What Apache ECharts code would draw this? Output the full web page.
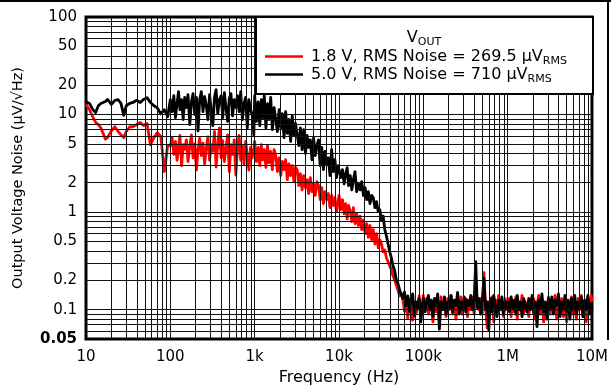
<!DOCTYPE html>
<html><head><meta charset="utf-8">
<script src="https://cdn.jsdelivr.net/npm/echarts@6/dist/echarts.min.js"></script>
<style>html,body{margin:0;padding:0;background:#fff}#c{width:611px;height:392px}</style>
</head><body><div id="c"></div>
<script>
// Frequency points (Hz)
const freq = [
10,11,12,13,14,15,17,18,20,22,24,26,28,30,33,36,40,44,48,53,58,64,70,77,85,93,
100,105,110,115,120,125,130,136,142,148,155,162,170,178,186,195,204,213,223,233,244,255,267,279,292,305,319,334,349,365,382,400,418,437,457,478,500,523,547,572,598,625,654,684,715,748,782,818,855,894,935,978,
1e3,1.05e3,1.1e3,1.15e3,1.2e3,1.25e3,1.3e3,1.36e3,1.42e3,1.48e3,1.55e3,1.62e3,1.7e3,1.78e3,1.86e3,1.95e3,2.04e3,2.13e3,2.23e3,2.33e3,2.44e3,2.55e3,2.67e3,2.79e3,2.92e3,3.05e3,3.19e3,3.34e3,3.49e3,3.65e3,3.82e3,4e3,4.18e3,4.37e3,4.57e3,4.78e3,5e3,5.23e3,5.47e3,5.72e3,5.98e3,6.25e3,6.54e3,6.84e3,7.15e3,7.48e3,7.82e3,8.18e3,8.55e3,8.94e3,9.35e3,9.78e3,
1e4,1.05e4,1.1e4,1.15e4,1.2e4,1.25e4,1.3e4,1.36e4,1.42e4,1.48e4,1.55e4,1.62e4,1.7e4,1.78e4,1.86e4,1.95e4,2.04e4,2.13e4,2.23e4,2.33e4,2.44e4,2.55e4,2.67e4,2.79e4,2.92e4,3.05e4,3.19e4,3.34e4,3.49e4,3.65e4,3.82e4,4e4,4.18e4,4.37e4,4.57e4,4.78e4,5e4,5.23e4,5.47e4,5.72e4,5.98e4,6.25e4,6.54e4,6.84e4,7.15e4,7.48e4,7.82e4,8.18e4,8.55e4,8.94e4,9.35e4,9.78e4,
1e5,1.05e5,1.1e5,1.15e5,1.2e5,1.25e5,1.3e5,1.36e5,1.42e5,1.48e5,1.55e5,1.62e5,1.7e5,1.78e5,1.86e5,1.95e5,2.04e5,2.13e5,2.23e5,2.33e5,2.44e5,2.55e5,2.67e5,2.79e5,2.92e5,3.05e5,3.19e5,3.34e5,3.49e5,3.65e5,3.82e5,4e5,4.18e5,4.37e5,4.57e5,4.78e5,5e5,5.23e5,5.47e5,5.72e5,5.98e5,6.25e5,6.54e5,6.84e5,7.15e5,7.48e5,7.82e5,8.18e5,8.55e5,8.94e5,9.35e5,9.78e5,
1e6,1.05e6,1.1e6,1.15e6,1.2e6,1.25e6,1.3e6,1.36e6,1.42e6,1.48e6,1.55e6,1.62e6,1.7e6,1.78e6,1.86e6,1.95e6,2.04e6,2.13e6,2.23e6,2.33e6,2.44e6,2.55e6,2.67e6,2.79e6,2.92e6,3.05e6,3.19e6,3.34e6,3.49e6,3.65e6,3.82e6,4e6,4.18e6,4.37e6,4.57e6,4.78e6,5e6,5.23e6,5.47e6,5.72e6,5.98e6,6.25e6,6.54e6,6.84e6,7.15e6,7.48e6,7.82e6,8.18e6,8.55e6,8.94e6,9.35e6,9.78e6,
1e7];

// VOUT = 1.8 V noise (µV/√Hz)
const noise18 = [
12.7,11.2,9.5,8.3,7.9,7.3,5.6,5.8,6.8,7.5,6.7,6.2,5.8,6.7,7.5,7.5,7.9,8.3,7.7,8.1,4.9,5.8,6.5,6.0,2.6,4.8,
4.8,5.8,3.9,5.3,3.4,4.6,6.1,3.0,4.9,4.4,5.5,3.3,4.7,
6.2,3.6,5.0,2.7,4.4,5.7,3.8,5.1,3.1,4.6,5.9,3.4,4.9,
4.2,6.7,2.9,4.8,7.3,3.6,5.4,3.3,4.5,6.2,2.6,4.9,3.9,
5.5,2.4,4.4,6.1,3.4,4.8,3.1,5.3,3.8,2.7,4.6,3.6,4.4,
5.3,3.3,4.6,3.0,4.9,3.44,4.36,2.87,4.8,3.2,4.2,2.72,4.36,
3.8,2.6,3.6,2.37,3.3,2.72,3.44,2.15,3.12,2.37,3.0,2.05,2.87,
2.72,1.87,2.48,1.69,2.37,1.78,2.15,1.55,2.26,1.62,1.95,1.48,2.05,
1.87,1.34,1.78,1.22,1.62,1.34,1.55,1.11,1.48,1.17,1.41,1.01,1.28,
1.48,1.06,1.34,0.96,1.22,0.85,1.17,1.01,0.8,1.11,0.76,0.96,0.73,
0.91,0.66,0.83,0.6,0.76,0.55,0.73,0.52,0.66,0.47,0.6,0.43,0.52,
0.47,0.39,0.41,0.34,0.31,0.28,0.256,0.222,0.202,0.179,0.159,0.138,0.145,
0.126,0.096,0.115,0.082,0.13,0.1,0.078,0.12,0.09,0.11,0.138,0.086,0.105,
0.14,0.1,0.13,0.09,0.12,0.105,0.075,0.13,0.095,0.115,0.08,0.135,0.1,
0.12,0.085,0.13,0.1,0.14,0.09,0.115,0.08,0.125,0.1,0.135,0.09,0.11,
0.13,0.085,0.12,0.1,0.135,0.09,0.125,0.11,0.1,0.13,0.09,0.24,0.105,
0.065,0.12,0.1,0.135,0.075,0.125,0.095,0.14,0.1,0.115,0.085,0.13,0.1,
0.1,0.13,0.085,0.12,0.095,0.135,0.08,0.115,0.1,0.14,0.09,0.12,0.105,
0.085,0.125,0.1,0.13,0.08,0.11,0.14,0.09,0.12,0.075,0.115,0.1,0.135,
0.09,0.12,0.105,0.14,0.08,0.125,0.095,0.13,0.085,0.115,0.075,0.12,0.1,
0.135,0.09,0.12,0.08,0.13,0.1,0.14,0.085,0.115,0.075,0.13,0.095,0.14,
0.12];

// VOUT = 5.0 V noise (µV/√Hz)
const noise50 = [
13.5,13,11.3,10.5,12.3,13,13.6,14.3,12.7,14,14.2,13,9.8,12.3,13,13.3,14,13.3,14.3,14.9,13.3,12.3,11.7,10.2,11.2,9.5,
14.2,10.7,15.6,9.3,12.9,17.2,11.2,14.2,8.9,15.0,11.8,16.0,7.9,
13.5,16.4,10.0,15.0,6.8,14.2,17.2,10.7,15.3,12.3,8.9,16.0,11.2,
7.7,15.0,18.0,10.2,14.2,15.6,9.3,16.8,11.8,8.5,14.6,16.4,9.7,
14.2,11.8,15.6,10.7,17.2,8.9,12.9,15.0,7.3,14.2,11.2,10.0,6.2,
15.6,8.5,13.5,7.7,14.2,9.3,15.6,7.3,12.9,8.9,15.0,7.0,11.8,
12.3,6.7,11.2,7.3,10.2,5.8,10.7,6.4,8.9,5.3,9.7,6.1,8.1,
8.1,4.8,7.3,4.36,7.0,4.0,6.1,4.6,5.5,3.44,5.8,3.8,4.8,
5.5,3.0,4.6,2.72,4.2,3.12,3.6,2.37,4.36,2.6,3.44,2.26,3.0,
3.12,2.26,2.72,1.95,2.48,2.85,1.87,2.37,1.69,2.15,2.6,1.62,1.95,
1.69,2.05,1.48,1.78,1.34,1.62,1.22,1.48,1.41,1.11,1.28,1.01,1.06,
0.83,0.91,0.66,0.57,0.47,0.39,0.34,0.28,0.25,0.202,0.186,0.159,0.152,
0.13,0.152,0.11,0.138,0.096,0.126,0.145,0.086,0.12,0.105,0.13,0.075,0.115,
0.13,0.095,0.12,0.14,0.1,0.125,0.085,0.13,0.11,0.145,0.063,0.12,0.1,
0.135,0.09,0.12,0.105,0.14,0.095,0.125,0.11,0.15,0.09,0.12,0.1,0.135,
0.095,0.125,0.11,0.14,0.1,0.12,0.31,0.105,0.13,0.09,0.125,0.21,0.1,
0.12,0.062,0.13,0.095,0.14,0.11,0.085,0.125,0.1,0.135,0.09,0.12,0.105,
0.12,0.095,0.135,0.105,0.125,0.09,0.14,0.1,0.12,0.085,0.13,0.11,0.095,
0.13,0.1,0.14,0.09,0.12,0.067,0.125,0.105,0.145,0.095,0.12,0.08,0.13,
0.1,0.135,0.09,0.125,0.11,0.145,0.085,0.12,0.1,0.14,0.095,0.125,0.08,
0.13,0.1,0.14,0.09,0.12,0.105,0.135,0.085,0.125,0.1,0.14,0.09,0.115,
0.1];

const xTicks = [10, 100, 1e3, 1e4, 1e5, 1e6, 1e7];
const xTickText = ['10', '100', '1k', '10k', '100k', '1M', '10M'];
const yTicks = [0.05, 0.1, 0.2, 0.5, 1, 2, 5, 10, 20, 50, 100];
const yTickText = ['0.05', '0.1', '0.2', '0.5', '1', '2', '5', '10', '20', '50', '100'];
const seriesLabels = ['1.8 V, RMS Noise = 269.5 µV', '5.0 V, RMS Noise = 710 µV'];

const FONT = 'DejaVu Sans';
const L = Math.log10;

// grid line positions (log decades with 1..9 subdivisions)
const xGrid = [];
for (let d = 10; d < 1e7; d *= 10) for (let m = 1; m <= 9; m++) { const v = m * d; if (v > 10) xGrid.push(v); }
const yGrid = [];
[0.01, 0.1, 1, 10].forEach(d => { for (let m = 1; m <= 9; m++) { const v = m * d; if (v > 0.05 + 1e-9) yGrid.push(v); } });

function labelFor(v, ticks, texts) {
  for (let i = 0; i < ticks.length; i++) if (Math.abs(L(ticks[i]) - v) < 1e-6) return texts[i];
  return '';
}

const richSub = { a: { fontSize: 16, fontFamily: FONT, fill: '#000', lineHeight: 20 }, s: { fontSize: 11, fontFamily: FONT, fill: '#000', lineHeight: 12, verticalAlign: 'bottom' } };

const chart = echarts.init(document.getElementById('c'), null, { renderer: 'canvas' });
chart.setOption({
  animation: false,
  backgroundColor: '#fff',
  grid: { left: 86, top: 17, width: 507, height: 322, show: true, borderColor: '#000', borderWidth: 3, backgroundColor: 'transparent' },
  xAxis: {
    type: 'value', min: L(10), max: L(1e7),
    axisLine: { show: false }, axisTick: { show: false }, splitLine: { show: false },
    axisLabel: {
      customValues: xTicks.map(L), margin: 11, color: '#000', fontSize: 15, fontFamily: FONT,
      formatter: v => labelFor(v, xTicks, xTickText)
    },
    name: 'Frequency (Hz)', nameLocation: 'middle', nameGap: 30,
    nameTextStyle: { color: '#000', fontSize: 16, fontFamily: FONT }
  },
  yAxis: {
    type: 'value', min: L(0.05), max: L(100),
    axisLine: { show: false }, axisTick: { show: false }, splitLine: { show: false },
    axisLabel: {
      customValues: yTicks.map(L), margin: 9, color: '#000', fontSize: 15, fontFamily: FONT,
      formatter: v => { const t = labelFor(v, yTicks, yTickText); return t === '0.05' ? '{b|0.05}' : t; },
      rich: { b: { fontWeight: 'bold', fontSize: 15, fontFamily: FONT, color: '#000' } }
    },
    name: 'Output Voltage Noise (µV/√Hz)', nameLocation: 'middle', nameGap: 60,
    nameTextStyle: { color: '#000', fontSize: 14.5, fontFamily: FONT }
  },
  series: [
    {
      type: 'line', name: 'grid', data: [], silent: true, z: 1,
      markLine: {
        silent: true, symbol: ['none', 'none'], precision: 8, label: { show: false }, animation: false,
        lineStyle: { color: '#111', width: 1, type: 'solid' },
        emphasis: { disabled: true },
        data: xGrid.map(v => ({ xAxis: L(v) })).concat(yGrid.map(v => ({ yAxis: L(v) })))
      }
    },
    {
      type: 'line', name: seriesLabels[0], z: 3, showSymbol: false, clip: true,
      lineStyle: { color: '#ff0000', width: 2.8, join: 'round' }, itemStyle: { color: '#ff0000' },
      data: freq.map((f, i) => [L(f), L(noise18[i])])
    },
    {
      type: 'line', name: seriesLabels[1], z: 4, showSymbol: false, clip: true,
      lineStyle: { color: '#000', width: 2.8, join: 'round' }, itemStyle: { color: '#000' },
      data: freq.map((f, i) => [L(f), L(noise50[i])])
    }
  ],
  graphic: [
    { type: 'line', z: 100, shape: { x1: 0, y1: 1, x2: 611, y2: 1 }, style: { stroke: '#000', lineWidth: 2 } },
    { type: 'line', z: 100, shape: { x1: 608, y1: 0, x2: 608, y2: 340 }, style: { stroke: '#000', lineWidth: 2 } },
    { type: 'rect', z: 100, shape: { x: 256, y: 17, width: 337, height: 77 }, style: { fill: '#fff', stroke: '#000', lineWidth: 2 } },
    { type: 'text', z: 101, x: 424, y: 38, style: { text: '{a|V}{s|OUT}', align: 'center', verticalAlign: 'middle', rich: richSub } },
    { type: 'line', z: 101, shape: { x1: 265, y1: 56.5, x2: 303, y2: 56.5 }, style: { stroke: '#ff0000', lineWidth: 2.5 } },
    { type: 'text', z: 101, x: 311, y: 56.5, style: { text: '{a|' + seriesLabels[0] + '}{s|RMS}', align: 'left', verticalAlign: 'middle', rich: richSub } },
    { type: 'line', z: 101, shape: { x1: 265, y1: 74.5, x2: 303, y2: 74.5 }, style: { stroke: '#000', lineWidth: 2.5 } },
    { type: 'text', z: 101, x: 311, y: 74.5, style: { text: '{a|' + seriesLabels[1] + '}{s|RMS}', align: 'left', verticalAlign: 'middle', rich: richSub } }
  ]
});
</script>
</body></html>
